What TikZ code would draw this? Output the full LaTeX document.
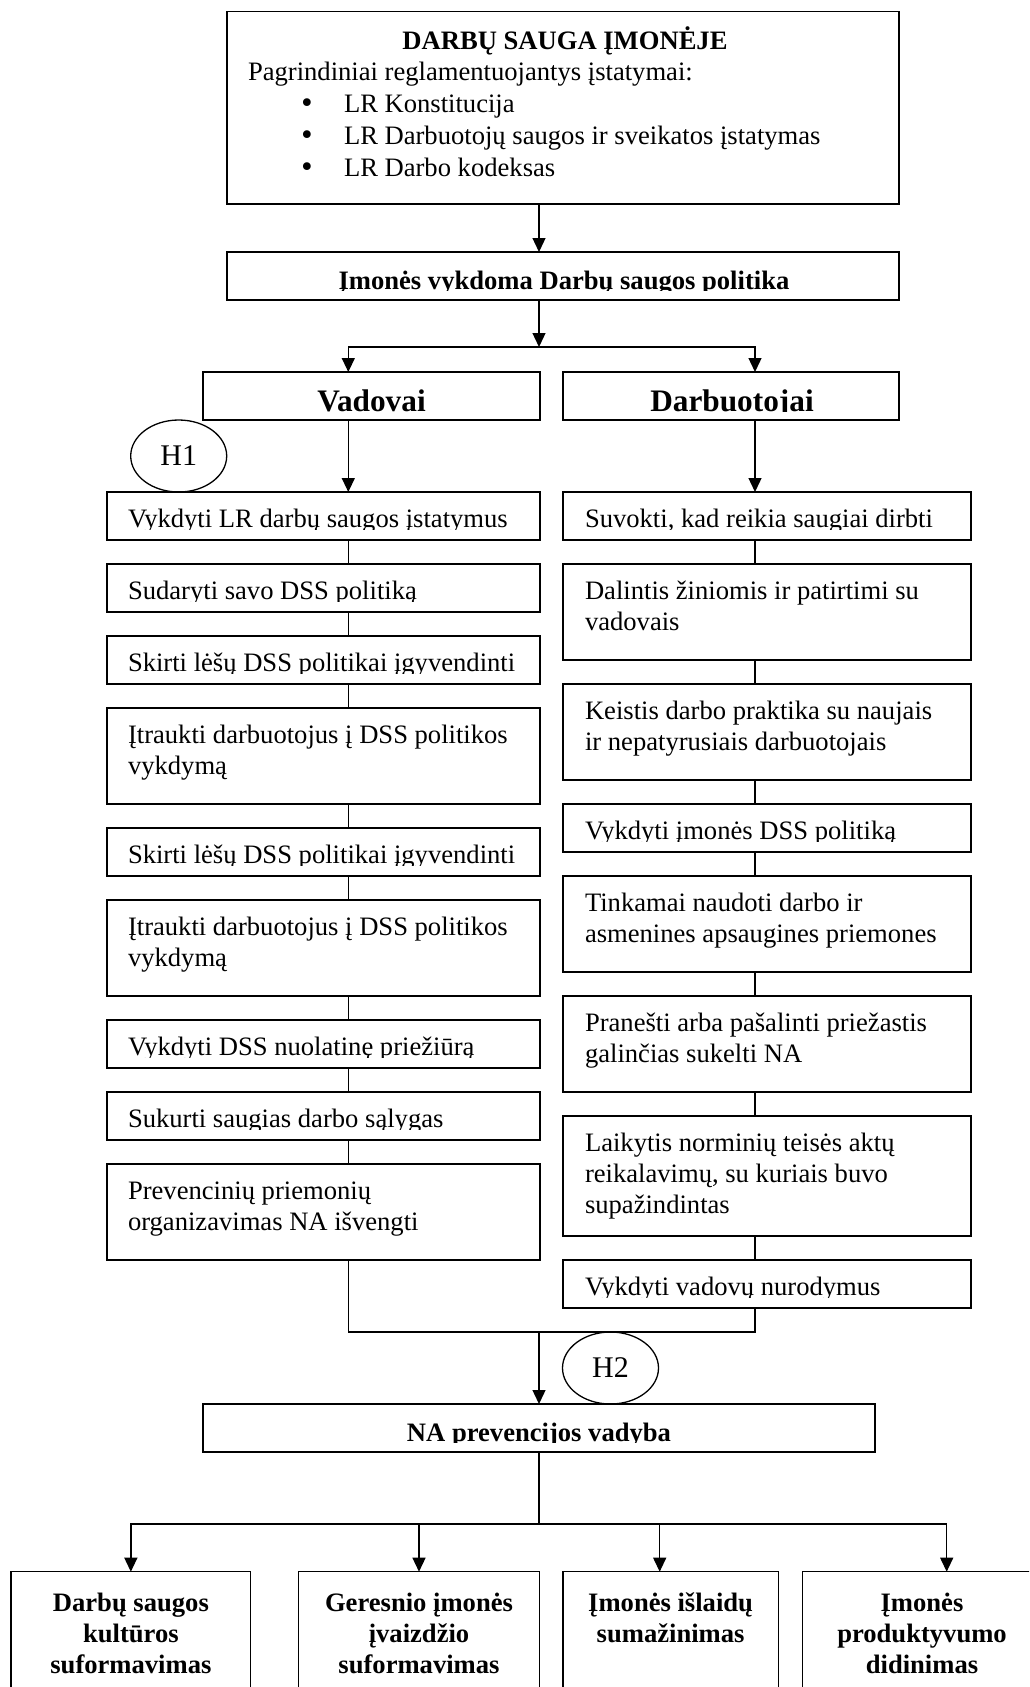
\documentclass[tikz,border=0pt]{standalone}
\usepackage{fontspec}
\setmainfont{Liberation Serif}
\newfontfamily\bulletfont{DejaVu Sans}
\usetikzlibrary{fit,arrows.meta,shapes.geometric}
\tikzset{
  box/.style={draw, rectangle, line width=1.3pt, inner sep=0pt, outer sep=0pt},
  txt/.style={inner sep=0pt, outer sep=0pt, font=\fontsize{26.6}{31}\selectfont},
  btxt/.style={inner sep=0pt, outer sep=0pt, font=\fontsize{26.6}{31}\selectfont\bfseries},
  htxt/.style={inner sep=0pt, outer sep=0pt, font=\fontsize{31.3}{36}\selectfont\bfseries},
  arr/.style={line width=1.3pt, -{Triangle[length=14pt,width=13pt]}},
  con/.style={line width=1.3pt},
  hyp/.style={draw, ellipse, line width=1.3pt, inner sep=0pt, outer sep=0pt,
    minimum width=96pt, minimum height=72pt, font=\fontsize{30}{34}\selectfont}
}
\newcommand\blt{\makebox[45pt][l]{{\bulletfont •}}}
% single-line box: name, x1, y1, x2, text x, text
\newcommand\boxone[6]{%
  \node[box, fit={(#2,#3) (#4,#3+48)}] (#1) {};
  \begin{scope}
    \clip (#2,#3) rectangle (#4,#3+37);
    \node[txt, anchor=base west] (#1t) at (#5,#3+35) {#6};
  \end{scope}}
% multi-line box: name, x1, y1, x2, y2, text x, text
\newcommand\boxmulti[7]{%
  \node[box, fit={(#2,#3) (#4,#5)}] (#1) {};
  \node[txt, anchor=base west] (#1t) at (#6,#3+35)
    {\begin{tabular}[t]{@{}l@{}}#7\end{tabular}};}
\begin{document}
\begin{tikzpicture}[x=1pt, y=-1pt]
\useasboundingbox (0,0) rectangle (1029,1687);
\fill[white] (0,0) rectangle (1029,1687);
\clip (0,0) rectangle (1029,1687);

% helper x positions
\coordinate (cx) at (539,0);
\coordinate (lx) at (348.3,0);
\coordinate (rx) at (755,0);
\coordinate (a3) at (659.7,0);
\coordinate (a4) at (946.7,0);
\coordinate (j1) at (539,347);
\coordinate (j2) at (539,1332);
\coordinate (j3) at (539,1524);

% top box
\node[box, fit={(227,11.7) (899,204)}] (top) {};
\node[btxt, anchor=base] (title) at (565,49) {DARBŲ SAUGA ĮMONĖJE};
\node[txt, anchor=base west] (sub) at (248,80.5) {Pagrindiniai reglamentuojantys įstatymai:};
\node[txt, anchor=base west, font=\fontsize{26.6}{32}\selectfont] (laws) at (299,112)
  {\begin{tabular}[t]{@{}l@{}}
   \blt LR Konstitucija\\
   \blt LR Darbuotojų saugos ir sveikatos įstatymas\\
   \blt LR Darbo kodeksas
   \end{tabular}};

% policy
\node[box, fit={(227,252) (899,300)}] (pol) {};
\begin{scope}
  \clip (227,252) rectangle (899,290.5);
  \node[btxt, anchor=base] (polt) at (564,289) {Įmonės vykdoma Darbų saugos politika};
\end{scope}

% Vadovai / Darbuotojai
\node[box, fit={(203,372) (540,420)}] (vad) {};
\node[box, fit={(563,372) (899,420)}] (darb) {};
\begin{scope}
  \clip (203,372) rectangle (899,411.5);
  \node[htxt, anchor=base] (vadt) at (371.5,411.5) {Vadovai};
  \node[htxt, anchor=base] (darbt) at (732,411.5) {Darbuotojai};
\end{scope}

% hypothesis H1
\node[hyp] (H1) at (178.7,456) {H1};

% left column
\boxone{L1}{107}{492}{540}{128}{Vykdyti LR darbų saugos įstatymus}
\boxone{L2}{107}{564}{540}{128}{Sudaryti savo DSS politiką}
\boxone{L3}{107}{636}{540}{128}{Skirti lėšų DSS politikai įgyvendinti}
\boxmulti{L4}{107}{708}{540}{804}{128}{Įtraukti darbuotojus į DSS politikos\\vykdymą}
\boxone{L5}{107}{828}{540}{128}{Skirti lėšų DSS politikai įgyvendinti}
\boxmulti{L6}{107}{900}{540}{996}{128}{Įtraukti darbuotojus į DSS politikos\\vykdymą}
\boxone{L7}{107}{1020}{540}{128}{Vykdyti DSS nuolatinę priežiūrą}
\boxone{L8}{107}{1092}{540}{128}{Sukurti saugias darbo sąlygas}
\boxmulti{L9}{107}{1164}{540}{1260}{128}{Prevencinių priemonių\\organizavimas NA išvengti}

% right column
\boxone{R1}{563}{492}{971}{585}{Suvokti, kad reikia saugiai dirbti}
\boxmulti{R2}{563}{564}{971}{660}{585}{Dalintis žiniomis ir patirtimi su\\vadovais}
\boxmulti{R3}{563}{684}{971}{780}{585}{Keistis darbo praktika su naujais\\ir nepatyrusiais darbuotojais}
\boxone{R4}{563}{804}{971}{585}{Vykdyti įmonės DSS politiką}
\boxmulti{R5}{563}{876}{971}{972}{585}{Tinkamai naudoti darbo ir\\asmenines apsaugines priemones}
\boxmulti{R6}{563}{996}{971}{1092}{585}{Pranešti arba pašalinti priežastis\\galinčias sukelti NA}
\boxmulti{R7}{563}{1116}{971}{1236}{585}{Laikytis norminių teisės aktų\\reikalavimų, su kuriais buvo\\supažindintas}
\boxone{R8}{563}{1260}{971}{585}{Vykdyti vadovų nurodymus}

% H2 and NA box
\node[hyp] (H2) at (610.5,1368) {H2};
\node[box, fit={(203,1404) (875,1452)}] (NA) {};
\begin{scope}
  \clip (203,1404) rectangle (875,1442.5);
  \node[btxt, anchor=base] (NAt) at (539,1441.5) {NA prevencijos vadyba};
\end{scope}

% bottom boxes
\node[box, fit={(11,1571.7) (250.7,1720)}] (B1) {};
\node[box, fit={(298.3,1571.7) (539.7,1720)}] (B2) {};
\node[box, fit={(563,1571.7) (778.3,1720)}] (B3) {};
\node[box, fit={(802.3,1571.7) (1042,1720)}] (B4) {};
\node[btxt, anchor=base] (B1t) at (130.9,1611)
  {\begin{tabular}[t]{@{}c@{}}Darbų saugos\\kultūros\\suformavimas\end{tabular}};
\node[btxt, anchor=base] (B2t) at (419,1611)
  {\begin{tabular}[t]{@{}c@{}}Geresnio įmonės\\įvaizdžio\\suformavimas\end{tabular}};
\node[btxt, anchor=base] (B3t) at (670.6,1611)
  {\begin{tabular}[t]{@{}c@{}}Įmonės išlaidų\\sumažinimas\end{tabular}};
\node[btxt, anchor=base] (B4t) at (922,1611)
  {\begin{tabular}[t]{@{}c@{}}Įmonės\\produktyvumo\\didinimas\end{tabular}};

% connectors
\draw[arr] (top.south -| cx) -- (pol.north -| cx);
\draw[arr] (pol.south -| cx) -- (j1);
\draw[arr] (j1) -| (vad.north -| lx);
\draw[arr] (j1) -| (darb.north -| rx);
\draw[arr] (vad.south -| lx) -- (L1.north -| lx);
\draw[arr] (darb.south -| rx) -- (R1.north -| rx);
\foreach \a/\b in {L1/L2,L2/L3,L3/L4,L4/L5,L5/L6,L6/L7,L7/L8,L8/L9}
  \draw[con] (\a.south -| lx) -- (\b.north -| lx);
\foreach \a/\b in {R1/R2,R2/R3,R3/R4,R4/R5,R5/R6,R6/R7,R7/R8}
  \draw[con] (\a.south -| rx) -- (\b.north -| rx);
\draw[con] (L9.south -| lx) |- (j2 -| rx) -- (R8.south -| rx);
\draw[arr] (j2) -- (NA.north -| j2);
\draw[con] (NA.south -| j3) -- (j3);
\draw[arr] (j3) -| (B1.north);
\draw[arr] (j3) -| (B2.north);
\draw[arr] (j3) -| (B3.north -| a3);
\draw[arr] (j3) -| (B4.north -| a4);
\end{tikzpicture}
\end{document}
